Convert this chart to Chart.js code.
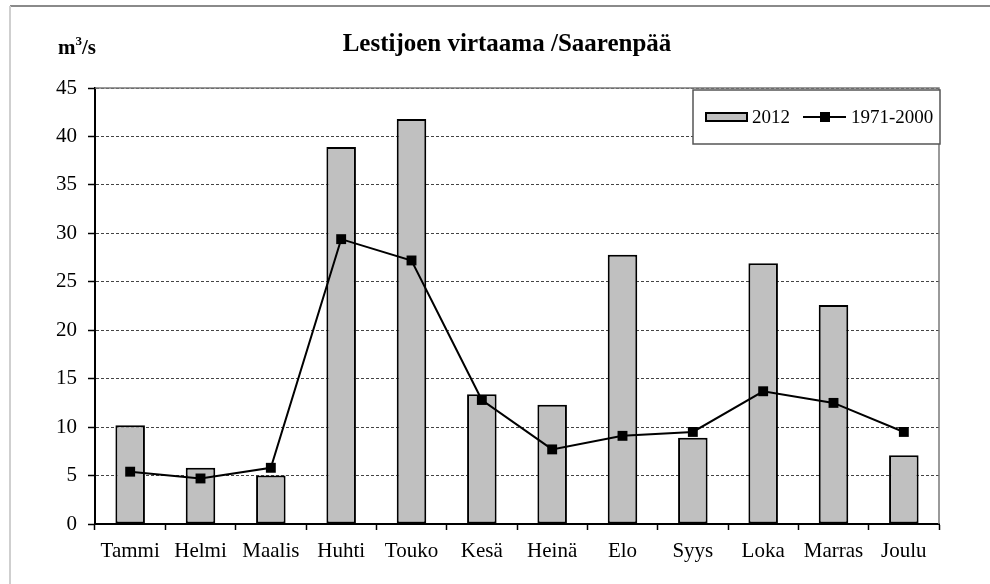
<!DOCTYPE html>
<html>
<head>
<meta charset="utf-8">
<script src="https://cdn.jsdelivr.net/npm/chart.js@4/dist/chart.umd.min.js"></script>
<style>
  html, body { margin: 0; padding: 0; background: #fff; }
  #wrap { width: 990px; height: 584px; position: relative; }
</style>
</head>
<body>
<div id="wrap"><canvas id="myChart" width="990" height="584"></canvas></div>
<script>
const months = ["Tammi", "Helmi", "Maalis", "Huhti", "Touko", "Kesä", "Heinä", "Elo", "Syys", "Loka", "Marras", "Joulu"];
const flow2012 = [10.2, 5.8, 5.0, 38.9, 41.8, 13.4, 12.3, 27.8, 8.9, 26.9, 22.6, 7.1];
const flowAvg = [5.4, 4.7, 5.8, 29.4, 27.2, 12.8, 7.7, 9.1, 9.5, 13.7, 12.5, 9.5];
const yTicks = [0, 5, 10, 15, 20, 25, 30, 35, 40, 45];

const serif = "'Liberation Serif', 'Times New Roman', serif";

// frame, title, unit label and boxed legend
const decorations = {
  id: "decorations",
  beforeDraw(chart) {
    const c = chart.ctx;
    c.save();
    c.fillStyle = "#fff";
    c.fillRect(0, 0, chart.width, chart.height);
    // outer frame (cropped)
    c.strokeStyle = "#8a8a8a";
    c.lineWidth = 2;
    c.beginPath();
    c.moveTo(10, 6);
    c.lineTo(chart.width, 6);
    c.stroke();
    c.strokeStyle = "#cfcfcf";
    c.beginPath();
    c.moveTo(10, 6);
    c.lineTo(10, chart.height);
    c.stroke();
    c.restore();
  },
  afterDatasetsDraw(chart) {
    const c = chart.ctx;
    const a = chart.chartArea;
    c.save();
    // plot area frame top/right
    c.strokeStyle = "#7a7a7a";
    c.lineWidth = 1.5;
    c.beginPath();
    c.moveTo(a.left, a.top);
    c.lineTo(a.right, a.top);
    c.lineTo(a.right, a.bottom);
    c.stroke();

    // title + unit
    c.fillStyle = "#000";
    c.textBaseline = "middle";
    c.textAlign = "center";
    c.font = "bold 25px " + serif;
    c.fillText("Lestijoen virtaama /Saarenpää", 507, 45);
    c.textAlign = "left";
    c.font = "bold 21px " + serif;
    c.fillText("m", 58, 49);
    const mw = c.measureText("m").width;
    c.font = "bold 13px " + serif;
    c.fillText("3", 58 + mw, 42);
    const tw = c.measureText("3").width;
    c.font = "bold 21px " + serif;
    c.fillText("/s", 58 + mw + tw, 49);

    // legend box
    const ds = chart.data.datasets;
    const bx = 693, by = 90, bw = 247, bh = 54;
    c.fillStyle = "#fff";
    c.fillRect(bx, by, bw, bh);
    c.strokeStyle = "#555";
    c.lineWidth = 1.5;
    c.strokeRect(bx, by, bw, bh);
    const cy = by + 27;
    c.fillStyle = ds[0].backgroundColor;
    c.fillRect(706, cy - 4, 41, 8);
    c.strokeStyle = "#000";
    c.lineWidth = 2;
    c.strokeRect(706, cy - 4, 41, 8);
    c.fillStyle = "#000";
    c.font = "19px " + serif;
    c.textAlign = "left";
    c.fillText(ds[0].label, 752, cy + 1);
    c.beginPath();
    c.moveTo(803, cy);
    c.lineTo(846, cy);
    c.stroke();
    c.fillRect(820, cy - 5, 10, 10);
    c.fillText(ds[1].label, 851, cy + 1);
    c.restore();
  }
};

const ctx = document.getElementById("myChart").getContext("2d");

const myChart = new Chart(ctx, {
  type: "bar",
  data: {
    labels: months,
    datasets: [
      {
        label: "2012",
        data: flow2012,
        backgroundColor: "#c0c0c0",
        borderColor: "#000",
        borderWidth: 2,
        borderSkipped: false,
        barPercentage: 0.42,
        categoryPercentage: 1,
        order: 2,
      },
      {
        type: "line",
        label: "1971-2000",
        data: flowAvg,
        borderColor: "#000",
        borderWidth: 2,
        backgroundColor: "#000",
        pointStyle: "rect",
        pointRadius: 7,
        pointBorderWidth: 0,
        tension: 0,
        order: 1,
      },
    ],
  },
  options: {
    responsive: false,
    animation: false,
    layout: { padding: { left: 10, top: 88, right: 51, bottom: 0 } },
    plugins: {
      legend: { display: false },
      tooltip: { enabled: false },
      title: { display: false },
    },
    scales: {
      x: {
        offset: true,
        grid: {
          offset: true,
          drawOnChartArea: false,
          tickLength: 6,
          tickColor: "#000",
          tickWidth: 1.5,
        },
        border: { color: "#000", width: 2 },
        ticks: {
          color: "#000",
          font: { family: serif, size: 21 },
          padding: 9,
          maxRotation: 0,
          autoSkip: false,
        },
        afterFit(scale) { scale.height = 60; },
      },
      y: {
        min: 0,
        max: 45,
        afterBuildTicks(scale) { scale.ticks = yTicks.map((v) => ({ value: v })); },
        grid: {
          color: "#444",
          lineWidth: 1,
          tickLength: 7,
          tickColor: "#000",
          tickWidth: 1.5,
          tickBorderDash: [],
        },
        border: { color: "#000", width: 2, dash: [3, 2] },
        ticks: {
          color: "#000",
          font: { family: serif, size: 21 },
          padding: 11,
        },
        afterFit(scale) { scale.width = 85; },
      },
    },
  },
  plugins: [decorations],
});
</script>
</body>
</html>
